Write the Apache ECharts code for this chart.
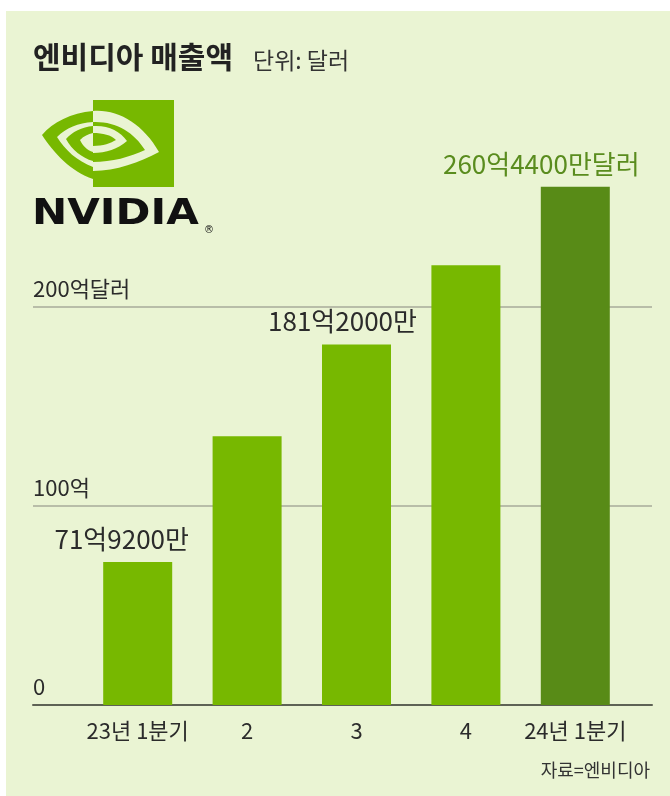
<!DOCTYPE html>
<html>
<head>
<meta charset="utf-8">
<script src="https://cdn.jsdelivr.net/npm/echarts@6/dist/echarts.min.js"></script>
<style>
  html, body { margin: 0; padding: 0; background: #ffffff; }
  #bg { position: absolute; left: 6px; top: 11px; width: 664px; height: 785px; background: #eaf4d3; }
  #chart { position: absolute; left: 0; top: 0; width: 670px; height: 796px; }
</style>
</head>
<body>
<div id="bg"></div>
<div id="chart"></div>
<script>
// ---- data (단위: 억 달러) ----
const categories = ['23년 1분기', '2', '3', '4', '24년 1분기'];
const revenue = [71.92, 135.07, 181.2, 221.03, 260.44];
const valueLabels = ['71억9200만', '', '181억2000만', '', '260억4400만달러'];
const yTickValues = [0, 100, 200];
const yTickLabels = ['0', '100억', '200억달러'];
const titleText = '엔비디아 매출액';
const unitText = '단위: 달러';
const sourceText = '자료=엔비디아';

// ---- styling ----
const FONT = "'Noto Sans CJK KR', 'Noto Sans', sans-serif";
const BG = '#eaf4d3';
const GREEN = '#77b800';
const DARK_GREEN = '#588b17';
const TEXT = '#2b2b2b';
const labelShiftX = [-16, 0, -14, 0, -34];

// logo shapes (decorative)
const logoPaths = {
  eyeOuter: 'M93,111 C71,113 53,122 42,135 C53,152 71,172 93,179 L93,167 C77,161 65,150 57,137 C66,128 78,123 93,122 Z',
  eyeInner: 'M93,126 C82,127 72,132 66,139 C72,150 82,158 93,161 L93,152 C87,150 83,146 80,140 C84,136 88,134 93,133 Z',
  cutOuter: 'M93,111 C118,109 143,124 159,152 C140,162 116,171 93,171 L93,162 C112,162 130,157 145,150 C134,132 115,121 93,122 Z',
  cutInner: 'M93,126 C108,125 120,131 127,141 C118,149 106,153 93,153 L93,146 C103,146 111,143 116,140 C111,135 103,133 93,133 Z'
};
Object.keys(logoPaths).forEach(k => {
  echarts.graphic.registerShape('logo_' + k, echarts.graphic.extendPath(logoPaths[k], {}));
});

const chart = echarts.init(document.getElementById('chart'), null, { renderer: 'canvas' });

function tickLabel(v) {
  const i = yTickValues.indexOf(v);
  return i >= 0 ? yTickLabels[i] : '';
}

const last = revenue.length - 1;
const barData = revenue.map((v, i) => ({
  value: v,
  itemStyle: { color: i === last ? DARK_GREEN : GREEN },
  label: {
    show: valueLabels[i] !== '',
    formatter: valueLabels[i],
    position: 'top',
    distance: 10,
    offset: [labelShiftX[i], 0],
    fontSize: 26,
    fontFamily: FONT,
    color: i === last ? '#5a8c1e' : TEXT
  }
}));

const option = {
  backgroundColor: 'transparent',
  animation: false,
  grid: [
    { left: 33, right: 18, top: 108, bottom: 91 },
    { left: 83, right: 40, top: 108, bottom: 91 }
  ],
  xAxis: [
    {
      gridIndex: 0, type: 'value', min: 0, max: 1,
      axisLine: { show: true, lineStyle: { color: '#5e6255', width: 2 } },
      axisTick: { show: false }, axisLabel: { show: false }, splitLine: { show: false }
    },
    {
      gridIndex: 1, type: 'category', data: categories,
      axisLine: { show: false }, axisTick: { show: false },
      axisLabel: { interval: 0, margin: 15, fontSize: 22, color: TEXT, fontFamily: FONT }
    }
  ],
  yAxis: [
    {
      gridIndex: 0, type: 'value', min: 0, max: 300, interval: 100,
      axisLine: { show: false }, axisTick: { show: false },
      splitLine: { show: true, lineStyle: { color: ['transparent', '#b8bda8', '#b8bda8', 'transparent'], width: 2 } },
      axisLabel: {
        inside: true, margin: 0, verticalAlign: 'bottom', padding: [0, 0, 7, 0],
        fontSize: 22, color: TEXT, fontFamily: FONT,
        formatter: tickLabel
      }
    },
    {
      gridIndex: 1, type: 'value', min: 0, max: 300, interval: 100, show: false,
      splitLine: { show: false }
    }
  ],
  series: [
    {
      type: 'bar', xAxisIndex: 1, yAxisIndex: 1,
      barWidth: 69,
      data: barData
    }
  ],
  graphic: [
    // title
    { type: 'text', x: 33, y: 57, style: { text: titleText, fontSize: 30, fontWeight: 'bold', fontFamily: FONT, fill: '#222', verticalAlign: 'middle' } },
    { type: 'text', x: 253, y: 60, style: { text: unitText, fontSize: 23, fontFamily: FONT, fill: '#333', verticalAlign: 'middle' } },
    // NVIDIA logo: green square + eye
    { type: 'rect', z: 10, shape: { x: 93, y: 100, width: 81, height: 87 }, style: { fill: GREEN } },
    { type: 'logo_eyeOuter', z: 11, style: { fill: GREEN } },
    { type: 'logo_eyeInner', z: 11, style: { fill: GREEN } },
    { type: 'logo_cutOuter', z: 12, style: { fill: BG } },
    { type: 'logo_cutInner', z: 12, style: { fill: BG } },
    { type: 'text', x: 32, y: 215, scaleX: 1.17, style: { text: 'NVIDIA', fontSize: 36, fontWeight: 'bold', fontFamily: "'DejaVu Sans', sans-serif", fill: '#111', verticalAlign: 'middle' } },
    { type: 'text', x: 209, y: 230, style: { text: '®', fontSize: 10, fontFamily: "'DejaVu Sans', sans-serif", fill: '#111', align: 'center', verticalAlign: 'middle' } },
    // source
    { type: 'text', x: 650, y: 770, style: { text: sourceText, fontSize: 18, fontFamily: FONT, fill: '#333', align: 'right', verticalAlign: 'middle' } }
  ]
};

chart.setOption(option);
</script>
</body>
</html>
